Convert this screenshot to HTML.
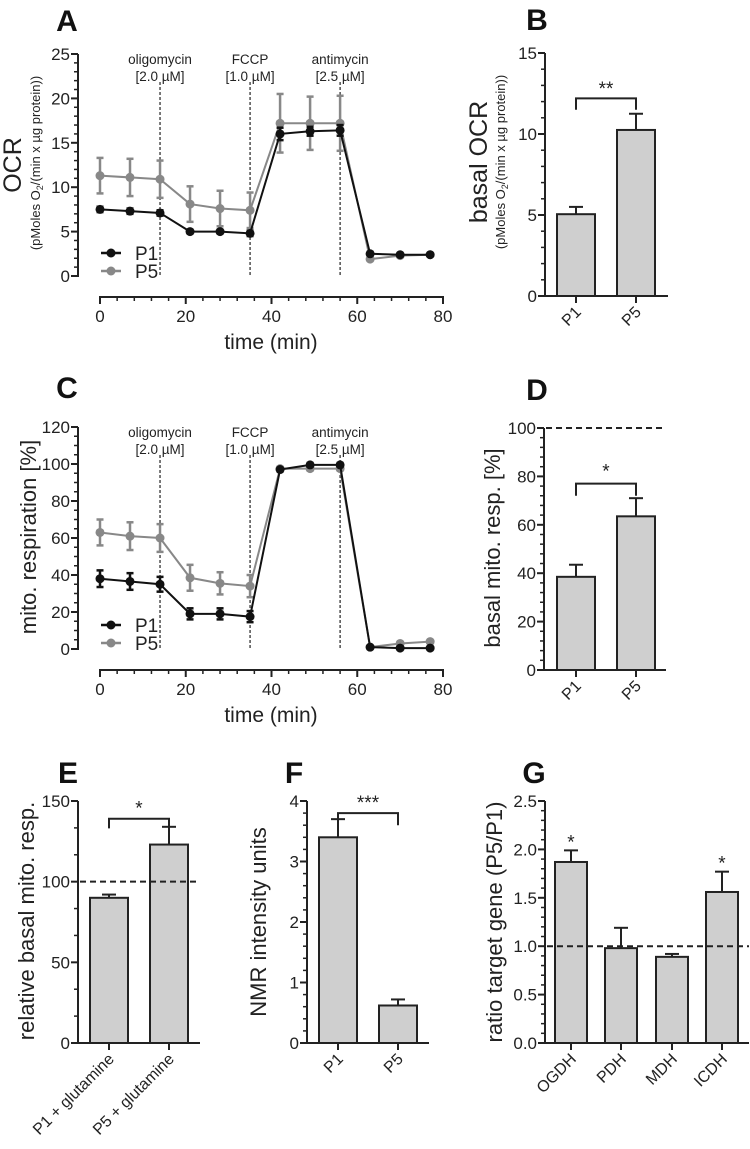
<!DOCTYPE html>
<html><head><meta charset="utf-8"><style>
body{margin:0;background:#fff;}
svg{display:block;font-family:"Liberation Sans",Arial,sans-serif;}
</style></head><body>
<svg id="fig" width="750" height="1149" viewBox="0 0 750 1149" xmlns="http://www.w3.org/2000/svg"></svg>
<script>
// ---- data ----
const times = [0,7,14,21,28,35,42,49,56,63,70,77];
const ocrP1 = [7.5,7.3,7.1,5.0,5.0,4.8,16.0,16.3,16.4,2.5,2.4,2.4];
const ocrP1Err = [0.3,0.3,0.3,0.2,0.2,0.3,0.7,0.5,0.6,0.2,0.1,0.1];
const ocrP5 = [11.3,11.1,10.9,8.1,7.6,7.4,17.2,17.2,17.2,1.9,2.3,2.4];
const ocrP5Err = [2.0,2.1,2.1,2.0,2.0,2.0,3.3,3.0,3.1,0.1,0.1,0.1];
const mitoP1 = [38,36.5,35,19,19,17.5,97,99.5,99.5,1,0.5,0.5];
const mitoP1Err = [4.5,4.5,4,3,3,3,1,1,1,0.5,0.5,0.5];
const mitoP5 = [63,61,60,38.5,35.5,34,97.5,97.5,97.5,1,3,4];
const mitoP5Err = [7,7.5,7.5,7,6,6,1,1,1,0.5,0.5,0.5];
const drugTimes = [14,35,56];
const drugNames = ["oligomycin","FCCP","antimycin"];
const drugDoses = ["[2.0 µM]","[1.0 µM]","[2.5 µM]"];
const timeTicks = [0,20,40,60,80];
const ocrTicks = [0,5,10,15,20,25];
const mitoTicks = [0,20,40,60,80,100,120];
const bCats = ["P1","P5"];
const bVals = [5.05,10.25];
const bErr = [0.45,1.0];
const bTicks = [0,5,10,15];
const dCats = ["P1","P5"];
const dVals = [38.5,63.5];
const dErr = [5,7.5];
const dTicks = [0,20,40,60,80,100];
const eCats = ["P1 + glutamine","P5 + glutamine"];
const eVals = [90,123];
const eErr = [2,11];
const eTicks = [0,50,100,150];
const fCats = ["P1","P5"];
const fVals = [3.4,0.62];
const fErr = [0.3,0.1];
const fTicks = [0,1,2,3,4];
const gCats = ["OGDH","PDH","MDH","ICDH"];
const gVals = [1.87,0.98,0.89,1.56];
const gErr = [0.12,0.21,0.03,0.21];
const gTicks = ["0.0","0.5","1.0","1.5","2.0","2.5"];

const NS="http://www.w3.org/2000/svg";
const svg=document.getElementById('fig');
const TICK=17, TITLE=22, SUB=13;
function mk(tag,attrs,parent,text){
  const e=document.createElementNS(NS,tag);
  for(const k in attrs) e.setAttribute(k,attrs[k]);
  if(text!==undefined) e.textContent=text;
  (parent||svg).appendChild(e); return e;
}
function grp(name){const g=mk('g',{});
  
  
  return g;}
function lin(g,x1,y1,x2,y2,st,w,dash){return mk('line',{x1,y1,x2,y2,stroke:st||'#222','stroke-width':w||2,'stroke-dasharray':dash||'none'},g);}
function txt(g,x,y,s,size,anchor,extra){const t=mk('text',Object.assign({x,y,'font-size':size,'text-anchor':anchor||'middle',fill:'#222'},extra||{}),g,s);return t;}

function yAxis(g,x,ypx,min,max,ticks,labels,minorN){
  lin(g,x,ypx(min)+1,x,ypx(max),'#222',2);
  const step=(ticks[1]-ticks[0])/minorN;
  for(let v=min; v<=max+1e-9; v+=step){
    const major=ticks.some(t=>Math.abs(t-v)<1e-6);
    lin(g,x-(major?7:4),ypx(v),x,ypx(v),'#222',major?2:1.5);
  }
  ticks.forEach((t,i)=>{const l=txt(g,x-8,ypx(t)+6,labels[i],TICK,'end');
    
    });
}
function panelLetter(x,y,s){const t=txt(svg,x,y,s,30,'middle',{'font-weight':'bold',fill:'#111'});
  
  }

function lineChart(name,oy0,oyTop,max,ticks,s1,e1,s5,e5,legendY,opts){
  const g=grp(name);
  const X0=100,X1=443;
  const xpx=v=>X0+(X1-X0)*v/80;
  const ypx=v=>oy0-(oy0-oyTop)*v/max;
  yAxis(g,78,ypx,0,max,ticks,ticks.map(String),opts.minor);
  const ax=opts.xAxisY;
  lin(g,X0-1,ax,X1+1,ax,'#222',2);
  for(let v=0;v<=80;v+=4){const major=v%20===0;lin(g,xpx(v),ax,xpx(v),ax+(major?7:4),'#222',major?2:1.5);}
  timeTicks.forEach(t=>{const l=txt(g,xpx(t),ax+25,String(t),TICK);
    
    });
  const xt=txt(g,271,ax+52,'time (min)',21);
  
  
  drugTimes.forEach((d,i)=>{
    lin(g,xpx(d),oyTop+28,xpx(d),oy0,'#222',1.2,'3,2');
    const n=txt(g,xpx(d),oyTop+10,drugNames[i],13.5);
    
    
    txt(g,xpx(d),oyTop+27,drugDoses[i],13.5);
  });
  function series(vals,errs,col,nm){
    const sg=mk('g',{},g);
    
    
    vals.forEach((v,i)=>{const e=errs[i];
      const x=xpx(times[i]);
      lin(sg,x,ypx(v-e),x,ypx(v+e),col,2.5);
      lin(sg,x-3.5,ypx(v-e),x+3.5,ypx(v-e),col,2.5);
      lin(sg,x-3.5,ypx(v+e),x+3.5,ypx(v+e),col,2.5);});
    mk('polyline',{points:vals.map((v,i)=>xpx(times[i])+','+ypx(v)).join(' '),fill:'none',stroke:col,'stroke-width':2},sg);
    vals.forEach((v,i)=>{const c=mk('circle',{cx:xpx(times[i]),cy:ypx(v),r:4.5,fill:col},sg);
      
      });
  }
  series(s5,e5,'#888','series-p5');
  series(s1,e1,'#111','series-p1');
  [['P1','#111'],['P5','#888']].forEach((l,i)=>{
    const y=legendY+i*18;
    const lg=mk('g',{},g);
    
    
    lin(lg,101,y,121,y,l[1],2.5);
    mk('circle',{cx:111,cy:y,r:4.5,fill:l[1]},lg);
    txt(lg,135,y+7,l[0],19,'start');
  });
  return g;
}

function barChart(name,axX,axEnd,y0,yTop,max,ticks,labels,minor,cats,vals,errs,centers,bw){
  const g=grp(name);
  const ypx=v=>y0-(y0-yTop)*v/max;
  yAxis(g,axX,ypx,0,max,ticks,labels,minor);
  vals.forEach((v,i)=>{
    const c=centers[i];
    const e=errs[i];
    lin(g,c,ypx(v),c,ypx(v+e),'#222',2);
    lin(g,c-7,ypx(v+e),c+7,ypx(v+e),'#222',2);
    const r=mk('rect',{x:c-bw/2,y:ypx(v),width:bw,height:y0-ypx(v),fill:'#cfcfcf',stroke:'#222','stroke-width':2},g);
    
    
    lin(g,c,y0,c,y0+7,'#222',2);
    const t=txt(g,0,0,cats[i],16,'end',{transform:`translate(${c+6},${y0+17}) rotate(-45)`});
    
    
  });
  lin(g,axX-1,y0,axEnd,y0,'#222',2);
  return {g,ypx};
}
function bracket(g,x1,x2,ytop,yleg,stars,sy){
  mk('polyline',{points:`${x1},${yleg} ${x1},${ytop} ${x2},${ytop} ${x2},${yleg}`,fill:'none',stroke:'#222','stroke-width':2},g);
  const t=txt(g,(x1+x2)/2,sy,stars,19);
  
  
}
function vtitle(g,x,y,s,size,name){
  const t=txt(g,0,0,s,size,'middle',{transform:`translate(${x},${y}) rotate(-90)`});
  
  
  return t;
}
const subHTML='(pMoles O<tspan font-size="9" dy="3">2</tspan><tspan dy="-3">/(min x µg protein))</tspan>';

// Panel A
panelLetter(67,31,'A');
const gA=lineChart('chart-a-ocr',276,54,25,ocrTicks,ocrP1,ocrP1Err,ocrP5,ocrP5Err,253,{minor:5,xAxisY:297});
vtitle(gA,21,165,'OCR',25,'y-axis-title');
const subA=vtitle(gA,40,163,'',SUB,'y-axis-subtitle');
subA.innerHTML=subHTML;

// Panel B
panelLetter(537,30,'B');
const B=barChart('chart-b-basal-ocr',545,668,296,53,15,bTicks,bTicks.map(String),5,bCats,bVals,bErr,[576,636],38);
vtitle(B.g,487,162,'basal OCR',25,'y-axis-title');
const subB=vtitle(B.g,505,162,'',SUB,'y-axis-subtitle');
subB.innerHTML=subHTML;
bracket(B.g,576,636,B.ypx(12.2),B.ypx(11.5),'**',B.ypx(12.4));

// Panel C
panelLetter(67,398,'C');
const gC=lineChart('chart-c-mito-respiration',649,427,120,mitoTicks,mitoP1,mitoP1Err,mitoP5,mitoP5Err,625,{minor:4,xAxisY:670});
vtitle(gC,36,537,'mito. respiration [%]',TITLE,'y-axis-title');

// Panel D
panelLetter(537,400,'D');
const D=barChart('chart-d-basal-mito',544,666,670,428,100,dTicks,dTicks.map(String),5,dCats,dVals,dErr,[576,636],38);
lin(D.g,546,D.ypx(100),666,D.ypx(100),'#222',2,'6,4');
vtitle(D.g,500,548,'basal mito. resp. [%]',TITLE,'y-axis-title');
bracket(D.g,576,636,D.ypx(77),D.ypx(72),'*',D.ypx(79.5));

// Panel E
panelLetter(68,783,'E');
const E=barChart('chart-e-relative-basal',78,200,1043,801,150,eTicks,eTicks.map(String),3,eCats,eVals,eErr,[109,169],38);
lin(E.g,80,E.ypx(100),200,E.ypx(100),'#222',2,'6,4');
vtitle(E.g,34,921,'relative basal mito. resp.',TITLE,'y-axis-title');
bracket(E.g,109,169,E.ypx(139),E.ypx(133),'*',E.ypx(141.5));

// Panel F
panelLetter(294,783,'F');
const F=barChart('chart-f-nmr',307,429,1043,801,4,fTicks,fTicks.map(String),5,fCats,fVals,fErr,[338,398],38);
vtitle(F.g,266,922,'NMR intensity units',TITLE,'y-axis-title');
bracket(F.g,338,398,F.ypx(3.8),F.ypx(3.6),'***',F.ypx(3.87));

// Panel G
panelLetter(534,783,'G');
const G=barChart('chart-g-target-gene',545,749,1043,801,2.5,[0,0.5,1,1.5,2,2.5],gTicks,5,gCats,gVals,gErr,[571,621,672,722],32);
lin(G.g,547,G.ypx(1),749,G.ypx(1),'#222',2,'6,4');
vtitle(G.g,502,922,'ratio target gene (P5/P1)',TITLE,'y-axis-title');
const s1=txt(G.g,571,G.ypx(gVals[0]+gErr[0])-2,'*',19);


const s2=txt(G.g,722,G.ypx(gVals[3]+gErr[3])-2,'*',19);


</script>
</body></html>
